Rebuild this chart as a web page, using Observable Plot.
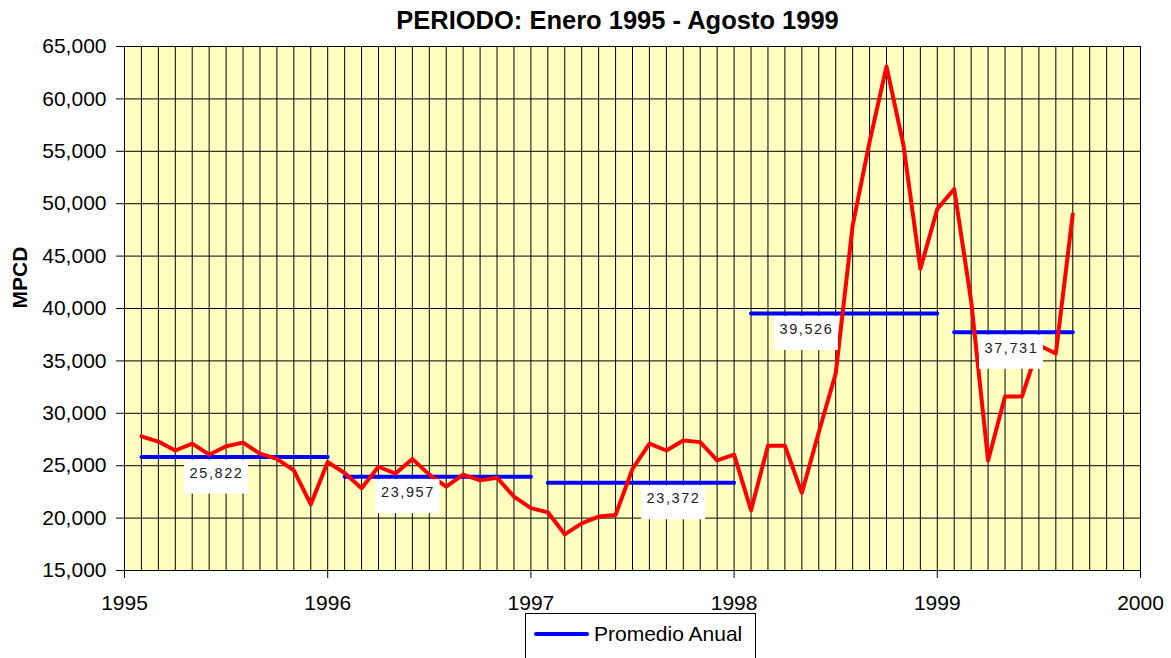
<!DOCTYPE html>
<html>
<head>
<meta charset="utf-8">
<script src="https://cdn.jsdelivr.net/npm/d3@7"></script>
<script src="https://cdn.jsdelivr.net/npm/@observablehq/plot@0.6"></script>
<style>
  body { margin: 0; background: #fff; }
  #wrap { position: relative; width: 1171px; height: 658px; overflow: hidden; font-family: "Liberation Sans", Arial, sans-serif; }
  #wrap svg { position: absolute; left: 0; top: 0; }
  #legend { position: absolute; left: 525px; top: 613px; width: 231px; height: 80px; border: 1px solid #000; background: #fff; box-sizing: border-box; }
  #legend .sw { position: absolute; left: 8px; top: 18px; width: 55px; height: 4px; background: #0000FF; border-radius: 2px; }
  #legend .lb { position: absolute; left: 68px; top: 8px; font-size: 21px; line-height: 24px; color: #000; white-space: nowrap; }
</style>
</head>
<body>
<div id="wrap"><div id="legend"><div class="sw"></div><div class="lb"></div></div></div>
<script>
// ---- data ----
const titulo = "PERIODO: Enero 1995 - Agosto 1999";
const tituloEjeY = "MPCD";
const leyenda = "Promedio Anual";
const anios = [1995, 1996, 1997, 1998, 1999];
const mpcd1995 = [27800, 27300, 26450, 27100, 26050, 26850, 27200, 26150, 25650, 24550, 21300, 25350];
const mpcd1996 = [24300, 22850, 24900, 24250, 25650, 24150, 23000, 24150, 23600, 23850, 22050, 20950];
const mpcd1997 = [20550, 18450, 19500, 20150, 20300, 24700, 27100, 26450, 27400, 27250, 25500, 26050];
const mpcd1998 = [20750, 26900, 26900, 22400, 28200, 33800, 47900, 55900, 63100, 55600, 43800, 49500];
const mpcd1999 = [51400, 40700, 25500, 31600, 31600, 36500, 35700, 49000];
const promedioAnual = [25822, 23957, 23372, 39526, 37731];
const ticksX = [1995, 1996, 1997, 1998, 1999, 2000];
const ticksY = [15000, 20000, 25000, 30000, 35000, 40000, 45000, 50000, 55000, 60000, 65000];

// ---- layout ----
const W = 1171, H = 658, mT = 46, mB = 88, mL = 124, mR = 31;
const unitsPerPx = (65000 - 15000) / (H - mT - mB);
const labelCenter = [0.453, 0.395, 0.702, 0.356, 0.365]; // fraction of year where each label box sits
const boxHalfW = 32 / ((W - mL - mR) / 5);

const mensual = [mpcd1995, mpcd1996, mpcd1997, mpcd1998, mpcd1999];
const serie = anios.flatMap((a, j) => mensual[j].map((v, i) => ({x: a + (i + 1) / 12, y: v})));
const prom = anios.map((a, j) => ({x1: a + 1 / 12, x2: a + mensual[j].length / 12, y: promedioAnual[j]}));
const etiquetas = anios.map((a, j) => {
  const cx = a + labelCenter[j];
  return {
    x: cx, x1: cx - boxHalfW, x2: cx + boxHalfW,
    y: promedioAnual[j],
    y1: promedioAnual[j] - 3 * unitsPerPx,
    y2: promedioAnual[j] - 37 * unitsPerPx,
    text: d3.format(",")(promedioAnual[j])
  };
});
const mesesGrid = d3.range(0, 61).map(k => 1995 + k / 12);

const chart = Plot.plot({
  width: W, height: H,
  marginTop: mT, marginBottom: mB, marginLeft: mL, marginRight: mR,
  style: {fontFamily: '"Liberation Sans", Arial, sans-serif', fontSize: "21px", color: "#000", background: "transparent", overflow: "visible"},
  x: {domain: [1995, 2000]},
  y: {domain: [15000, 65000]},
  marks: [
    Plot.frame({fill: "#FFFFC0"}),
    Plot.gridX(mesesGrid, {stroke: "#000", strokeOpacity: 1, strokeWidth: 1}),
    Plot.gridY(ticksY, {stroke: "#000", strokeOpacity: 1, strokeWidth: 1}),
    Plot.frame({stroke: "#000", strokeWidth: 1}),
    Plot.axisY(ticksY, {tickSize: 8, tickPadding: 10, tickFormat: d3.format(","), fontSize: 21, stroke: "#000", fill: "#000"}),
    Plot.axisX(ticksX, {tickSize: 8, tickPadding: 17, tickFormat: d => String(d), fontSize: 21, stroke: "#000", fill: "#000"}),
    Plot.link(prom, {x1: "x1", x2: "x2", y1: "y", y2: "y", stroke: "#0000FF", strokeWidth: 4, strokeLinecap: "round"}),
    Plot.line(serie, {x: "x", y: "y", stroke: "#FF0000", strokeWidth: 4}),
    Plot.rect(etiquetas, {x1: "x1", x2: "x2", y1: "y1", y2: "y2", fill: "#fff"}),
    Plot.text(etiquetas, {x: "x", y: "y", text: "text", dy: 16, fontSize: 14.5, fill: "#222", lineAnchor: "middle", ariaLabel: "etiquetas-promedio"}),
    Plot.text([titulo], {text: d => d, frameAnchor: "top", dx: -15, dy: -26, fontSize: 25.5, fontWeight: "bold", lineAnchor: "middle", fill: "#000"}),
    Plot.text([tituloEjeY], {text: d => d, frameAnchor: "left", dx: -104, rotate: -90, fontSize: 21, fontWeight: "bold", lineAnchor: "middle", fill: "#000"})
  ]
});
// letter spacing for the average labels
const labelTexts = new Set(etiquetas.map(d => d.text));
chart.querySelectorAll("text").forEach(t => {
  if (labelTexts.has(t.textContent)) {
    t.setAttribute("letter-spacing", "1.6");
    t.style.letterSpacing = "1.6px";
  }
});
const wrap = document.getElementById("wrap");
wrap.insertBefore(chart, wrap.firstChild);
document.querySelector("#legend .lb").textContent = leyenda;
</script>
</body>
</html>
